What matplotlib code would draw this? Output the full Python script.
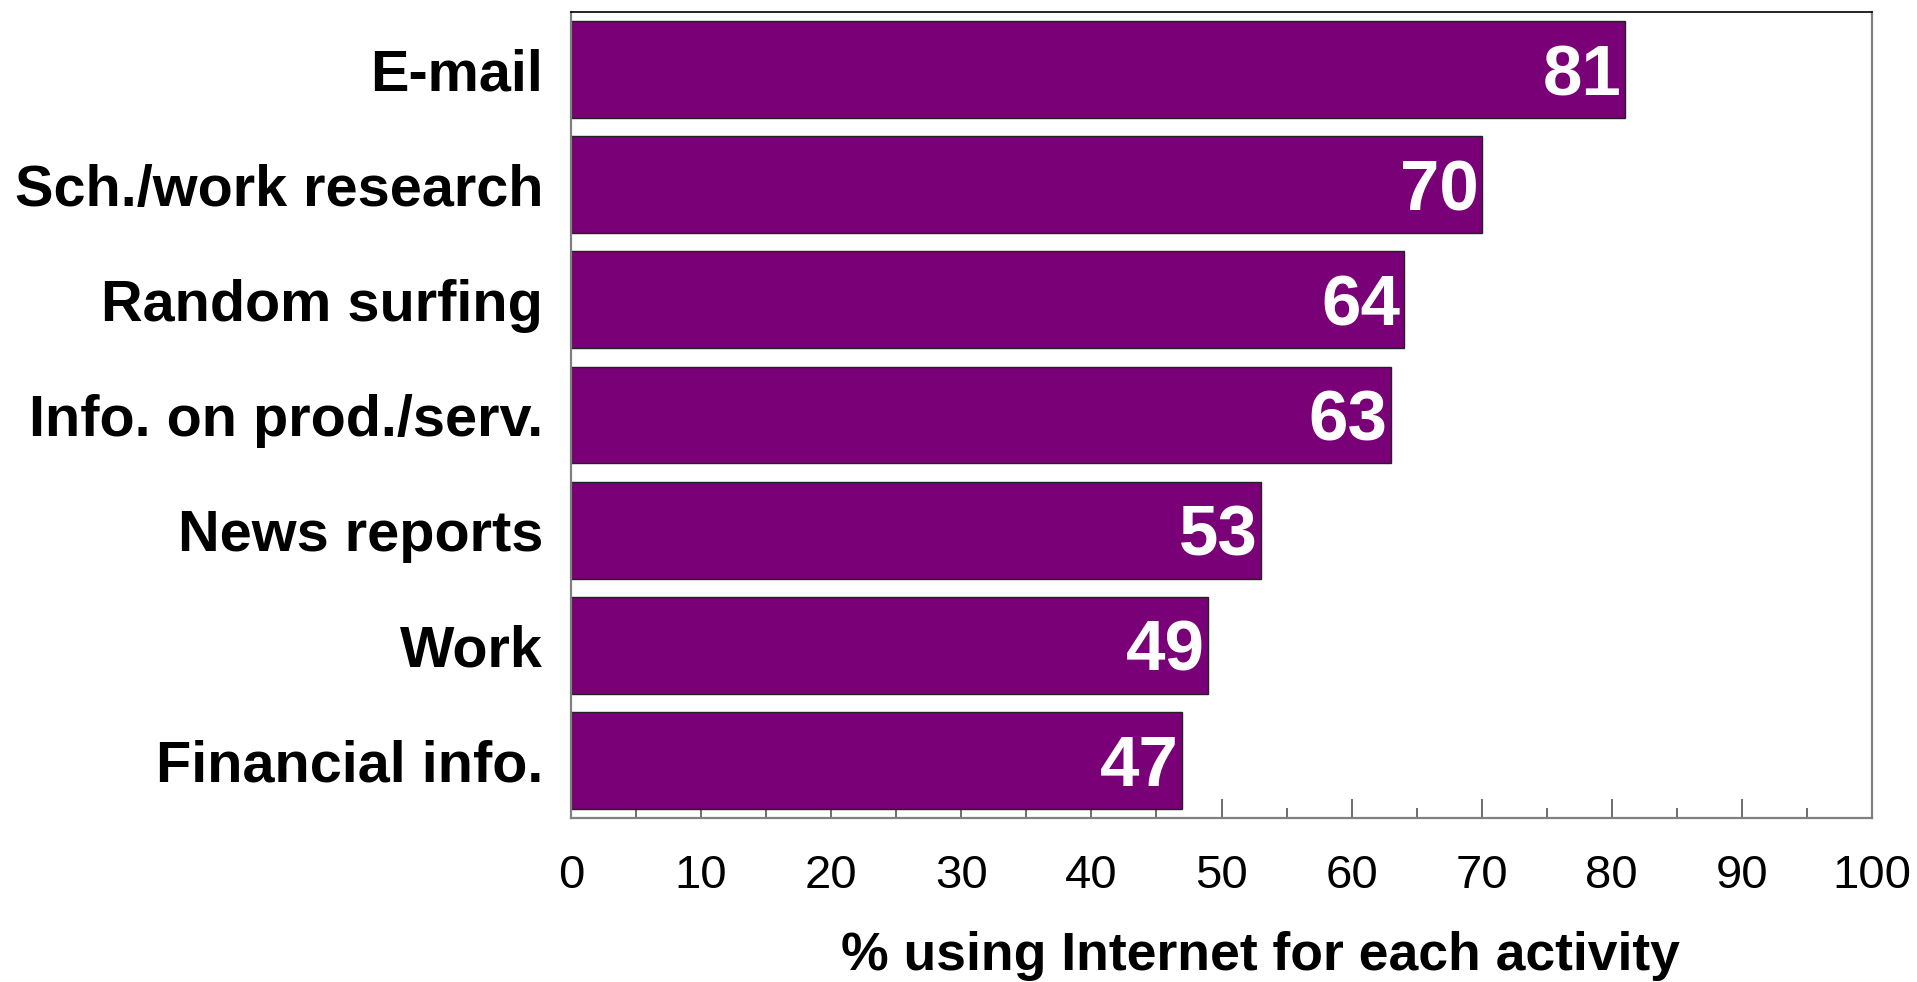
import matplotlib
matplotlib.use("Agg")
import matplotlib.pyplot as plt
from matplotlib.ticker import MultipleLocator

activities = ["E-mail", "Sch./work research", "Random surfing",
              "Info. on prod./serv.", "News reports", "Work", "Financial info."]
percent_using = [81, 70, 64, 63, 53, 49, 47]
x_ticks = [0, 10, 20, 30, 40, 50, 60, 70, 80, 90, 100]

plt.rcParams["font.family"] = ["Liberation Sans", "DejaVu Sans"]

fig = plt.figure(figsize=(19.17, 9.82), dpi=100)
ax = fig.add_axes([571 / 1917, 1 - 818 / 982, (1872 - 571) / 1917, (818 - 12) / 982])

ypos = list(range(len(activities)))[::-1]
bars = ax.barh(ypos, percent_using, height=0.84, color="#7a0077",
               edgecolor="#222222", linewidth=1.0, zorder=2)

for b, v in zip(bars, percent_using):
    ax.text(v - 0.25, b.get_y() + b.get_height() / 2, f"{v}",
            ha="right", va="center_baseline", color="white",
            fontsize=51, fontweight="bold", zorder=3)

ax.set_xlim(0, 100)
ax.set_ylim(-0.5, len(activities) - 0.5)
ax.set_yticks(ypos)
ax.set_yticklabels(activities, fontsize=41.5, fontweight="bold")
ax.set_xticks(x_ticks)
ax.set_xticklabels([str(t) for t in x_ticks], fontsize=34)
ax.xaxis.set_minor_locator(MultipleLocator(5))

ax.tick_params(axis="y", length=0, pad=20)
ax.tick_params(axis="x", which="major", direction="in", length=14, width=1.2,
               color="#555555", pad=26)
ax.tick_params(axis="x", which="minor", direction="in", length=7, width=1.2,
               color="#555555")

for side in ("left", "right", "bottom"):
    ax.spines[side].set_color("#808080")
    ax.spines[side].set_linewidth(1.6)
ax.spines["top"].set_color("black")
ax.spines["top"].set_linewidth(1.2)

ax.set_xlabel("% using Internet for each activity", fontsize=38.5,
              fontweight="bold", labelpad=24, x=0.53)

fig.savefig("out.png", dpi=100, facecolor="white")
